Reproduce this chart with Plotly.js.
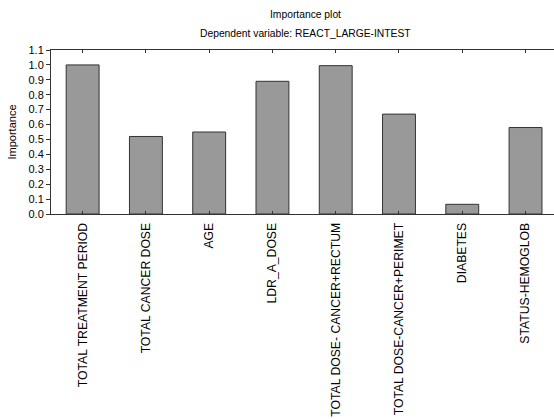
<!DOCTYPE html>
<html><head><meta charset="utf-8">
<script src="https://cdn.plot.ly/plotly-3.0.1.min.js"></script>
<style>html,body{margin:0;padding:0;background:#fff;overflow:hidden}</style>
</head><body>
<div id="chart" style="width:554px;height:419px"></div>
<script>
const categories = ["TOTAL TREATMENT PERIOD","TOTAL CANCER DOSE","AGE","LDR_A_DOSE","TOTAL DOSE- CANCER+RECTUM","TOTAL DOSE-CANCER+PERIMET","DIABETES","STATUS-HEMOGLOB"];
const importance = [1.0, 0.52, 0.55, 0.89, 0.995, 0.67, 0.065, 0.58];
const yTicks = [0,0.1,0.2,0.3,0.4,0.5,0.6,0.7,0.8,0.9,1.0,1.1];
const titleLine1 = 'Importance plot';
const titleLine2 = 'Dependent variable: REACT_LARGE-INTEST';

Plotly.newPlot('chart', [{
  type: 'bar', x: categories, y: importance,
  marker: {color: '#999999', line: {color: '#333333', width: 1}},
  width: 0.52
}], {
  width: 554, height: 419,
  margin: {l: 51, r: 0, t: 50, b: 205},
  paper_bgcolor: '#fff', plot_bgcolor: '#fff',
  font: {family: 'Liberation Sans, Arial, sans-serif', size: 11, color: '#000'},
  showlegend: false,
  annotations: [
    {text: titleLine1, xref: 'paper', yref: 'paper', x: 0.505, y: 1, yshift: 36, yanchor: 'middle', showarrow: false, font: {size: 10.3}},
    {text: titleLine2, xref: 'paper', yref: 'paper', x: 0.505, y: 1, yshift: 17, yanchor: 'middle', showarrow: false, font: {size: 10.3}}
  ],
  xaxis: {range: [-0.5, 7.45], tickangle: -90, showline: true, linecolor: '#333', linewidth: 1, mirror: 'ticks', ticks: 'inside', ticklen: 3, tickcolor: '#333', showgrid: false, tickfont: {size: 12.2}, ticklabelstandoff: 3},
  yaxis: {range: [0, 1.1], tickvals: yTicks, tickformat: '.1f', ticks: 'outside', ticklen: 4, tickcolor: '#333', showline: true, linecolor: '#333', linewidth: 1, mirror: false, showgrid: false, zeroline: false, title: {text: 'Importance', standoff: 9, font: {size: 11}}, tickfont: {size: 11}}
}, {displayModeBar: false});
</script>
</body></html>
